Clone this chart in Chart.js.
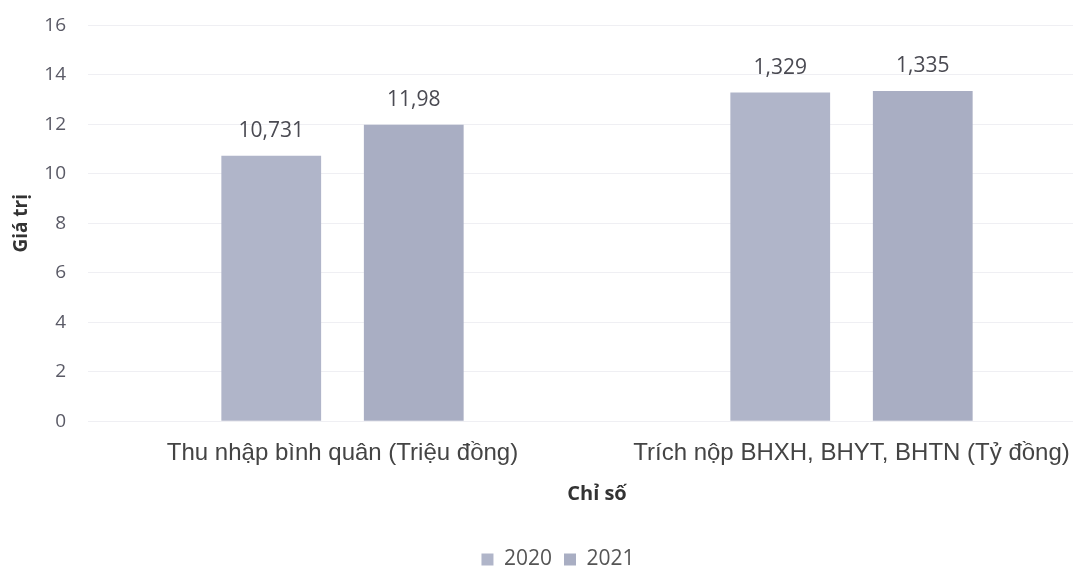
<!DOCTYPE html>
<html>
<head>
<meta charset="utf-8">
<script src="https://cdn.jsdelivr.net/npm/chart.js@4"></script>
<style>
  html, body { margin: 0; padding: 0; background: #fff; overflow: hidden; }
  #chart { display: block; margin-top: -8px; }
</style>
</head>
<body>
<canvas id="chart" width="1106" height="575"></canvas>
<script>
// categories and series
const categories = ['Thu nhập bình quân (Triệu đồng)', 'Trích nộp BHXH, BHYT, BHTN (Tỷ đồng)']
const series = ['2020', '2021']
const values2020 = [10.731, 13.29]
const values2021 = [11.98, 13.35]
// value labels as printed on the chart
const labels2020 = ['10,731', '1,329']
const labels2021 = ['11,98', '1,335']
const yTicks = [0, 2, 4, 6, 8, 10, 12, 14, 16]

const barLabels = {
    id: 'barLabels',
    afterDatasetsDraw(chart) {
        const ctx = chart.ctx
        ctx.save()
        ctx.font = '21px "Open Sans", sans-serif'
        ctx.fillStyle = '#4a4a52'
        ctx.textAlign = 'center'
        ctx.textBaseline = 'bottom'
        chart.data.datasets.forEach((ds, i) => {
            chart.getDatasetMeta(i).data.forEach((bar, j) => {
                ctx.fillText(ds.valueText[j], bar.x, bar.y - 14)
            })
        })
        ctx.restore()
    }
}

const data = {
    labels: categories,
    datasets: [{
        label: series[0],
        data: values2020,
        valueText: labels2020,
        backgroundColor: '#b0b5c9',
        categoryPercentage: 0.56,
        barPercentage: 0.7
    },
    {
        label: series[1],
        data: values2021,
        valueText: labels2021,
        backgroundColor: '#a9aec3',
        categoryPercentage: 0.56,
        barPercentage: 0.7
    }]
}

const options = {
    responsive: false,
    animation: false,
    layout: { padding: { top: 0, left: 10, right: 0, bottom: -13 } },
    plugins: {
        legend: {
            position: 'bottom',
            labels: {
                boxWidth: 12,
                boxHeight: 12,
                color: '#555',
                font: { size: 21, family: '"Open Sans", sans-serif' },
                padding: 12
            }
        },
        tooltip: { enabled: false }
    },
    scales: {
        x: {
            grid: { display: false },
            border: { display: false },
            ticks: {
                color: '#444',
                font: { size: 24, family: '"Liberation Sans", Arial, sans-serif' },
                padding: 10
            },
            title: {
                display: true,
                text: 'Chỉ số',
                color: '#333',
                font: { size: 20, weight: 'bold', family: '"Open Sans", sans-serif' },
                padding: { top: 4, bottom: 31 }
            }
        },
        y: {
            min: 0,
            max: 16,
            afterBuildTicks: axis => { axis.ticks = yTicks.map(v => ({ value: v })) },
            afterFit: axis => { axis.width = 78 },
            grid: { color: '#efeff3', drawTicks: false },
            border: { display: false },
            ticks: {
                color: '#5a5a66',
                font: { size: 19, family: '"Open Sans", sans-serif' },
                padding: 22
            },
            title: {
                display: true,
                text: 'Giá trị',
                color: '#333',
                font: { size: 19, weight: 'bold', family: '"Open Sans", sans-serif' },
                padding: { top: 0, bottom: 0 }
            }
        }
    }
}

new Chart(document.getElementById('chart'), {
    type: 'bar',
    data: data,
    options: options,
    plugins: [barLabels]
})
</script>
</body>
</html>
